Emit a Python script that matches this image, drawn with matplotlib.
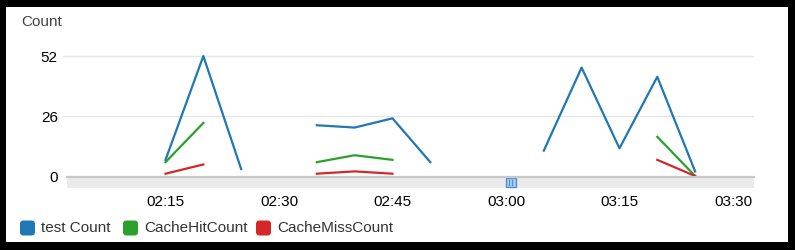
import matplotlib
matplotlib.use("Agg")
import matplotlib.pyplot as plt
import matplotlib.dates as mdates
from matplotlib.patches import Rectangle, FancyBboxPatch
import numpy as np
import pandas as pd

plt.rcParams["font.family"] = ["Liberation Sans", "DejaVu Sans"]

# --- Data (5 minute samples, NaN = no data) ---
times = ["02:15", "02:20", "02:25", "02:30", "02:35", "02:40", "02:45", "02:50",
         "02:55", "03:00", "03:05", "03:10", "03:15", "03:20", "03:25"]
nan = np.nan
test_count = [7, 52, 3, nan, 22, 21, 25, 6, nan, nan, 11, 47, 12, 43, 2]
cache_hit = [6, 23, nan, nan, 6, 9, 7, nan, nan, nan, nan, nan, nan, 17, 0]
cache_miss = [1, 5, nan, nan, 1, 2, 1, nan, nan, nan, nan, nan, nan, 7, 0]

series_names = ["test Count", "CacheHitCount", "CacheMissCount"]
series_colors = ["#1f77b4", "#2ca02c", "#d62728"]
yticks = [0, 26, 52]
xtick_labels = ["02:15", "02:30", "02:45", "03:00", "03:15", "03:30"]

day = "2024-01-01 "
t = pd.to_datetime([day + s for s in times])
xticks = pd.to_datetime([day + s for s in xtick_labels])

W, H = 795, 250
fig = plt.figure(figsize=(W / 100, H / 100), dpi=100)
fig.patch.set_facecolor("black")

# background layer in pixel coordinates (frame, band, legend)
bg = fig.add_axes([0, 0, 1, 1], zorder=0)
bg.set_xlim(0, W)
bg.set_ylim(H, 0)
bg.axis("off")
bg.add_patch(Rectangle((6, 7), 788 - 6, 242 - 7, facecolor="white", edgecolor="none"))

# main axes: x 62..754 px, y 42..176 px
ax_l, ax_r = 62, 754
ax_top, ax_bot = 42.2, 176
ax = fig.add_axes([ax_l / W, 1 - ax_bot / H, (ax_r - ax_l) / W, (ax_bot - ax_top) / H],
                  zorder=2)
ax.set_facecolor("none")

for v in yticks[1:]:
    ax.axhline(v, color="#e6e6e6", linewidth=1.0, zorder=1)
for vals, name, col in zip([test_count, cache_hit, cache_miss], series_names, series_colors):
    ax.plot(t, vals, color=col, linewidth=1.6, label=name, zorder=3)

ax.set_ylim(0, 58)
ax.set_xlim(pd.Timestamp(day + "02:01:19"), pd.Timestamp(day + "03:32:47"))
ax.set_yticks(yticks)
ax.set_yticklabels([str(v) for v in yticks], fontsize=11, color="black")
ax.set_xticks(xticks)
ax.xaxis.set_major_formatter(mdates.DateFormatter("%H:%M"))
ax.tick_params(axis="x", length=0, pad=13.5, labelsize=11, colors="black")
ax.tick_params(axis="y", length=0, pad=3)
for s in ax.spines.values():
    s.set_visible(False)

# scroll band under the plot
bg.add_patch(Rectangle((67, 176), 754 - 67, 12, facecolor="#ebebeb", edgecolor="none"))
bg.plot([67, 754], [176.5, 176.5], color="#c8c8c8", linewidth=1.6)
bg.add_patch(Rectangle((505.5, 177.5), 10, 9.5, facecolor="#a9cdf0",
                       edgecolor="#4a90d9", linewidth=1.0))
for dx in (509, 512):
    bg.plot([dx, dx], [179.5, 185], color="#4a90d9", linewidth=0.8)

# y axis title
bg.text(21, 22, "Count", fontsize=11, color="#444444", va="center", ha="left")

# legend
leg_y = 228
leg_x = [20, 123, 256]
for x, name, col in zip(leg_x, series_names, series_colors):
    bg.add_patch(FancyBboxPatch((x + 3, leg_y - 4.5), 9, 9,
                                boxstyle="round,pad=3,rounding_size=3.5",
                                facecolor=col, edgecolor="none"))
    bg.text(x + 21, leg_y, name, fontsize=11, color="#333333",
            va="center", ha="left")

fig.savefig("out.png", dpi=100, facecolor=fig.get_facecolor())
